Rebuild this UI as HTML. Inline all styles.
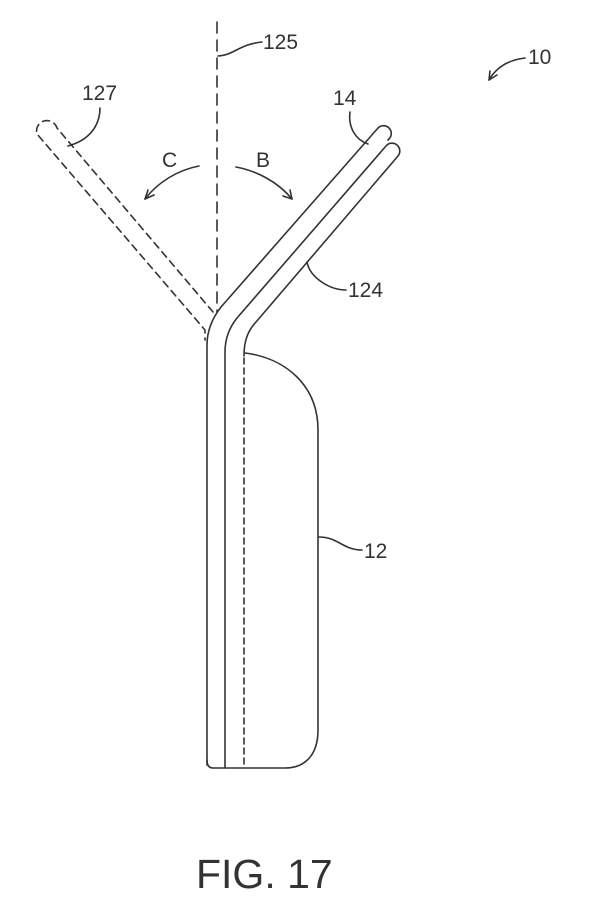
<!DOCTYPE html>
<html><head><style>
html,body{margin:0;padding:0;background:#fff;}
svg{display:block;}
text{font-family:"Liberation Sans",sans-serif;fill:#333;}
</style></head><body>
<svg width="613" height="900" viewBox="0 0 613 900" xmlns="http://www.w3.org/2000/svg">
<g fill="none" stroke="#333" stroke-width="1.6" stroke-linecap="round">
<line x1="217" y1="22" x2="217" y2="312" stroke-dasharray="11,7"/>
<path d="M218,56 C232,56 240,44 262,42"/>
<path d="M213,312 L57,128 A8,8 0 0 0 37,134 L205,330 L205,340" stroke-dasharray="7,5"/>
<path d="M68,146 C90,140 100,125 100,108"/>
<path d="M199,166 C178,170 158,182 145,199"/>
<path d="M145,199 l3,-9 M145,199 l9,-4"/>
<path d="M236,167 C257,171 278,182 292,199"/>
<path d="M292,199 l-9,-3 M292,199 l-2,-9"/>
<path d="M207,765 L207,345 Q207,325 221,307 L378,128 A7,7 0 0 1 389,139 L388,140"/>
<path d="M225,768 L225,352 Q225,333 237,318 L386,146 A7,7 0 0 1 398,156 L256,322 C248,331 244,340 244,356"/>
<line x1="244" y1="358" x2="244" y2="766" stroke-dasharray="6,4"/>
<path d="M245,353 C285,358 318,385 318,430 L318,730 C318,755 305,768 285,768 L213,768 Q207,768 207,760"/>
<path d="M319,537 C338,537 343,550 362,550"/>
<path d="M350,112 C348,128 356,140 368,144"/>
<path d="M307,262 C310,278 330,290 346,290"/>
<path d="M525,58 C508,60 496,68 489,80"/>
<path d="M489,80 l1,-9 M489,80 l8,-5"/>
</g>
<g font-size="21">
<text x="263" y="49">125</text>
<text x="82" y="100">127</text>
<text x="162" y="167">C</text>
<text x="256" y="167">B</text>
<text x="333" y="105">14</text>
<text x="348" y="297">124</text>
<text x="364" y="558">12</text>
<text x="528" y="64">10</text>
</g>
<text x="196" y="888" font-size="41">FIG. 17</text>
</svg>
</body></html>
